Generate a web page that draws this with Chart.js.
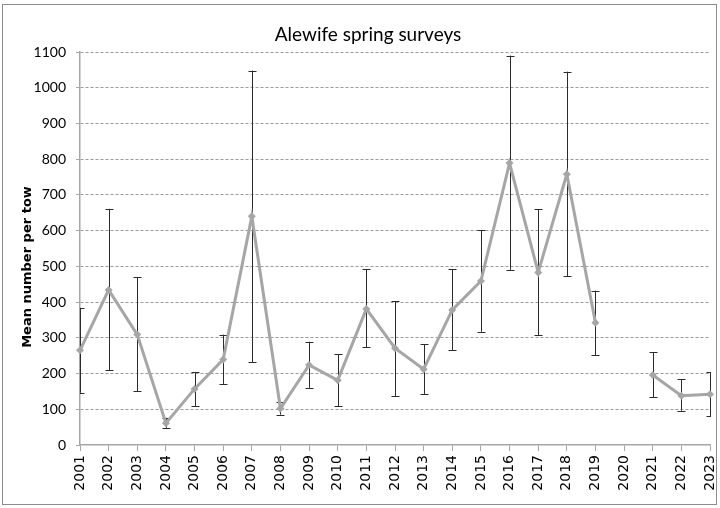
<!DOCTYPE html>
<html>
<head>
<meta charset="utf-8">
<script src="https://cdn.jsdelivr.net/npm/chart.js@4"></script>
<style>
  body { margin: 0; background: #fff; }
</style>
</head>
<body>
<canvas id="chart" width="720" height="508"></canvas>
<script>
const years = ["2001", "2002", "2003", "2004", "2005", "2006", "2007", "2008", "2009", "2010", "2011", "2012",
  "2013", "2014", "2015", "2016", "2017", "2018", "2019", "2020", "2021", "2022", "2023"];
const meanPerTow = [265, 434, 309, 61, 157, 239, 640, 102, 224, 181, 381, 271,
  212, 378, 459, 789, 483, 758, 342, null, 196, 138, 142];
const lowerBound = [146, 209, 151, 48, 109, 171, 231, 85, 160, 109, 273, 137,
  143, 265, 317, 490, 307, 473, 252, null, 134, 96, 81];
const upperBound = [384, 661, 469, 76, 203, 309, 1048, 119, 289, 254, 492, 403,
  282, 492, 601, 1090, 660, 1045, 432, null, 259, 184, 203];

const axisGray = "#a6a6a6";

// error bars, drawn under the line and clipped to the plot area
const errorBars = {
  id: "errorBars",
  beforeDatasetsDraw(chart) {
    const { ctx, chartArea, scales } = chart;
    ctx.save();
    ctx.beginPath();
    ctx.rect(chartArea.left, chartArea.top - 2, chartArea.right - chartArea.left + 1, chartArea.bottom - chartArea.top + 4);
    ctx.clip();
    ctx.strokeStyle = "#2b2b2b";
    ctx.lineWidth = 1;
    years.forEach((yr, i) => {
      if (lowerBound[i] === null) return;
      const x = Math.round(scales.x.getPixelForValue(i)) + 0.5;
      const yLo = scales.y.getPixelForValue(lowerBound[i]);
      const yHi = scales.y.getPixelForValue(upperBound[i]);
      ctx.beginPath();
      ctx.moveTo(x, yLo);
      ctx.lineTo(x, yHi);
      ctx.moveTo(x - 4, Math.round(yLo) + 0.5);
      ctx.lineTo(x + 4, Math.round(yLo) + 0.5);
      ctx.moveTo(x - 4, Math.round(yHi) + 0.5);
      ctx.lineTo(x + 4, Math.round(yHi) + 0.5);
      ctx.stroke();
    });
    ctx.restore();
  }
};

// chart title, y axis title and outer frame
const frameAndTitle = {
  id: "frameAndTitle",
  afterDraw(chart) {
    const ctx = chart.ctx;
    ctx.save();
    ctx.fillStyle = "#000";
    ctx.textAlign = "center";
    ctx.textBaseline = "middle";
    ctx.font = "19px Lato";
    ctx.fillText("Alewife spring surveys", 368, 35);

    ctx.translate(28, 267);
    ctx.rotate(-Math.PI / 2);
    ctx.font = "bold 13px 'DejaVu Sans'";
    ctx.fillText("Mean number per tow", 0, 0);
    ctx.restore();

    ctx.save();
    ctx.strokeStyle = "#8c8c8c";
    ctx.lineWidth = 1;
    ctx.strokeRect(2.5, 4.5, 714, 500);
    ctx.restore();
  }
};

new Chart(document.getElementById("chart"), {
  type: "line",
  data: {
    labels: years,
    datasets: [{
      label: "Alewife",
      data: meanPerTow,
      borderColor: axisGray,
      backgroundColor: axisGray,
      borderWidth: 3,
      pointStyle: "rectRot",
      pointRadius: 4,
      pointBorderWidth: 0,
      pointBackgroundColor: axisGray,
      tension: 0,
      spanGaps: false
    }]
  },
  options: {
    responsive: false,
    animation: false,
    layout: { padding: { left: 0, right: 10, top: 52, bottom: 0 } },
    plugins: {
      legend: { display: false },
      tooltip: { enabled: false },
      title: { display: false }
    },
    scales: {
      x: {
        type: "category",
        offset: false,
        grid: { drawOnChartArea: false, tickLength: 6, color: axisGray },
        border: { color: axisGray, width: 1.5 },
        ticks: {
          autoSkip: false,
          minRotation: 90,
          maxRotation: 90,
          padding: 4,
          color: "#000",
          font: { family: "DejaVu Sans", size: 14 }
        },
        afterFit(scale) {
          scale.height = 63;
          scale.paddingLeft = 0;
          scale.paddingRight = 0;
        }
      },
      y: {
        min: 0,
        max: 1100,
        ticks: {
          stepSize: 100,
          padding: 10,
          color: "#000",
          font: { family: "Lato", size: 14 },
          callback: (v) => String(v)
        },
        grid: {
          tickLength: 4,
          tickColor: axisGray,
          color: (c) => (c.tick && c.tick.value === 0 ? "rgba(0,0,0,0)" : "#9a9a9a")
        },
        border: { color: axisGray, width: 1.5, dash: [3, 2] },
        afterFit(scale) { scale.width = 80; }
      }
    }
  },
  plugins: [errorBars, frameAndTitle]
});
</script>
</body>
</html>
